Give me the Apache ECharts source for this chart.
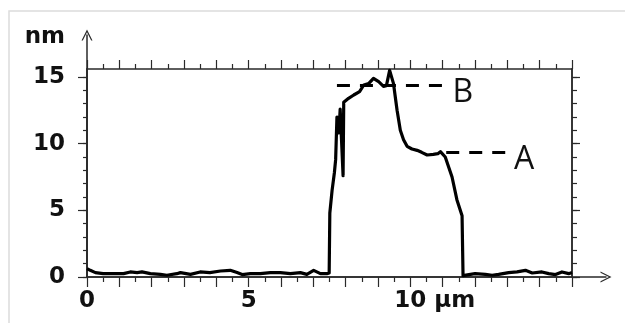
<!DOCTYPE html>
<html>
<head>
<meta charset="utf-8">
<script src="https://cdn.jsdelivr.net/npm/echarts@6/dist/echarts.min.js"></script>
<style>
  html, body { margin: 0; padding: 0; background: #fff; }
  #main { width: 625px; height: 323px; }
</style>
</head>
<body>
<div id="main"></div>
<script>
// height profile, x in µm, y in nm
const profileX = [
  0, 0.1, 0.26, 0.5, 0.82, 1.13, 1.34, 1.55, 1.7, 1.96, 2.27, 2.47, 2.78, 2.89, 3.2, 3.5,
  3.8, 4.13, 4.43, 4.64, 4.8, 5.05, 5.36, 5.67, 5.98, 6.29, 6.6, 6.8, 7.01, 7.22, 7.42, 7.49,
  7.51, 7.58, 7.65, 7.69, 7.73, 7.76, 7.79, 7.83, 7.87, 7.92, 7.94, 8.09, 8.25, 8.43, 8.56,
  8.71, 8.86, 9.02, 9.17, 9.26, 9.36, 9.4, 9.48, 9.59, 9.69, 9.79, 9.9, 10.05, 10.21, 10.35,
  10.52, 10.71, 10.85, 10.93, 11.08, 11.29, 11.44, 11.6, 11.63, 11.65, 11.86, 12.0, 12.32,
  12.53, 12.73, 13.04, 13.3, 13.56, 13.77, 14.07, 14.28, 14.49, 14.69, 14.9, 15.0
];
const profileY = [
  0.63, 0.5, 0.33, 0.25, 0.25, 0.25, 0.38, 0.33, 0.38, 0.25, 0.2, 0.13, 0.25, 0.33, 0.2, 0.38,
  0.33, 0.45, 0.5, 0.33, 0.18, 0.25, 0.25, 0.33, 0.33, 0.25, 0.33, 0.2, 0.5, 0.25, 0.25, 0.3,
  4.8, 6.5, 7.8, 8.8, 12.0, 12.1, 10.8, 12.6, 12.5, 7.6, 13.1, 13.4, 13.65, 13.9, 14.4,
  14.5, 14.9, 14.65, 14.3, 14.35, 15.5, 15.5, 14.5, 12.5, 11.0, 10.3, 9.8, 9.6, 9.5, 9.35,
  9.15, 9.2, 9.25, 9.4, 9.0, 7.5, 5.8, 4.6, 0.1, 0.08, 0.2, 0.25, 0.2,
  0.13, 0.2, 0.33, 0.38, 0.5, 0.3, 0.38, 0.25, 0.18, 0.38, 0.25, 0.33
];

// dashed level markers
const levelNames = ['B', 'A'];
const levelY = [14.4, 9.35];
const levelStart = [7.73, 11.11];
const levelEnd = [11.06, 12.96];

const xTickLabels = [0, 5, 10];
const yTickLabels = [0, 5, 10, 15];
const yMinorTicks = [0, 1, 2, 3, 4, 5, 6, 7, 8, 9, 10, 11, 12, 13, 14, 15];

const axisColor = '#2a2a2a';
const textColor = '#111';
const boldFont = 'DejaVu Sans';
const arrowPath = 'path://M0 20 L10 0 L20 20 L17.6 20 L10 4.8 L2.4 20 Z';

const chart = echarts.init(document.getElementById('main'));

const lineStyle = { color: axisColor, width: 1.5 };
const tickStyle = { color: axisColor, width: 1.2 };

chart.setOption({
  animation: false,
  grid: [
    { left: 87, right: 53, top: 69, bottom: 46 },
    { left: 87, right: 19, top: 35, bottom: 46 }
  ],
  graphic: [{
    type: 'rect',
    shape: { x: 9, y: 11, width: 700, height: 400 },
    style: { fill: 'none', stroke: '#dcdcdc', lineWidth: 1.5 },
    z: -1
  }],
  xAxis: [
    {
      gridIndex: 0, type: 'value', position: 'bottom', min: 0, max: 15, interval: 1,
      axisLine: { show: true, onZero: false, lineStyle: lineStyle },
      axisTick: { show: true, length: 10, lineStyle: tickStyle },
      minorTick: { show: true, splitNumber: 2, length: 5, lineStyle: tickStyle },
      splitLine: { show: false },
      axisLabel: {
        customValues: xTickLabels,
        margin: 13,
        color: textColor, fontFamily: boldFont, fontWeight: 'bold', fontSize: 23,
        formatter: v => v === 10 ? '{g|µm }10{u| µm}' : String(v),
        rich: {
          g: { color: 'transparent', fontFamily: boldFont, fontWeight: 'bold', fontSize: 23 },
          u: { color: textColor, fontFamily: boldFont, fontWeight: 'bold', fontSize: 23 }
        }
      }
    },
    {
      gridIndex: 0, type: 'value', position: 'top', min: 0, max: 15, interval: 1,
      axisLine: { show: true, onZero: false, lineStyle: lineStyle },
      axisTick: { show: true, length: 9, lineStyle: tickStyle },
      minorTick: { show: true, splitNumber: 2, length: 5, lineStyle: tickStyle },
      splitLine: { show: false },
      axisLabel: { show: false }
    },
    {
      gridIndex: 1, type: 'value', position: 'bottom', min: 0, max: 1,
      axisLine: { show: true, onZero: false, lineStyle: lineStyle, symbol: ['none', arrowPath], symbolSize: [11, 14] },
      axisTick: { show: false }, axisLabel: { show: false }, splitLine: { show: false }
    }
  ],
  yAxis: [
    {
      gridIndex: 0, type: 'value', position: 'left', min: 0, max: 15.6,
      axisLine: { show: true, onZero: false, lineStyle: lineStyle },
      axisTick: { show: true, customValues: yMinorTicks, length: 4, lineStyle: tickStyle },
      axisLabel: { show: false }, splitLine: { show: false }
    },
    {
      gridIndex: 0, type: 'value', position: 'left', min: 0, max: 15.6,
      name: 'nm', nameLocation: 'end', nameGap: 20,
      nameTextStyle: {
        color: textColor, fontFamily: boldFont, fontWeight: 'bold', fontSize: 23,
        align: 'right', padding: [0, 22, 0, 0]
      },
      axisLine: { show: true, onZero: false, lineStyle: lineStyle },
      axisTick: { show: true, customValues: yTickLabels, length: 9, lineStyle: tickStyle },
      axisLabel: {
        customValues: yTickLabels, margin: 22,
        color: textColor, fontFamily: boldFont, fontWeight: 'bold', fontSize: 23
      },
      splitLine: { show: false }
    },
    {
      gridIndex: 0, type: 'value', position: 'right', min: 0, max: 15.6,
      axisLine: { show: true, onZero: false, lineStyle: lineStyle },
      axisTick: { show: true, customValues: yMinorTicks, length: 5, lineStyle: tickStyle },
      axisLabel: { show: false }, splitLine: { show: false }
    },
    {
      gridIndex: 0, type: 'value', position: 'right', min: 0, max: 15.6,
      axisLine: { show: true, onZero: false, lineStyle: lineStyle },
      axisTick: { show: true, customValues: yTickLabels, length: 8, lineStyle: tickStyle },
      axisLabel: { show: false }, splitLine: { show: false }
    },
    {
      gridIndex: 1, type: 'value', position: 'left', min: 0, max: 1,
      axisLine: { show: true, onZero: false, lineStyle: lineStyle, symbol: ['none', arrowPath], symbolSize: [11, 14] },
      axisTick: { show: false }, axisLabel: { show: false }, splitLine: { show: false }
    }
  ],
  series: [{
    type: 'line',
    xAxisIndex: 0,
    yAxisIndex: 0,
    showSymbol: false,
    symbol: 'none',
    lineStyle: { color: '#000', width: 3.2, join: 'round' },
    data: profileX.map((x, i) => [x, profileY[i]]),
    markLine: {
      silent: true,
      symbol: ['none', 'none'],
      lineStyle: { color: '#000', width: 3, type: [13, 10] },
      label: {
        show: true, position: 'end', distance: 8,
        formatter: p => '{t|' + p.name + '}',
        rich: {
          t: {
            color: textColor, fontFamily: 'Open Sans', fontSize: 32,
            padding: [16, 0, 0, 0]
          }
        }
      },
      data: levelNames.map((n, i) => [
        { name: n, coord: [levelStart[i], levelY[i]] },
        { coord: [levelEnd[i], levelY[i]] }
      ])
    }
  }]
});
</script>
</body>
</html>
